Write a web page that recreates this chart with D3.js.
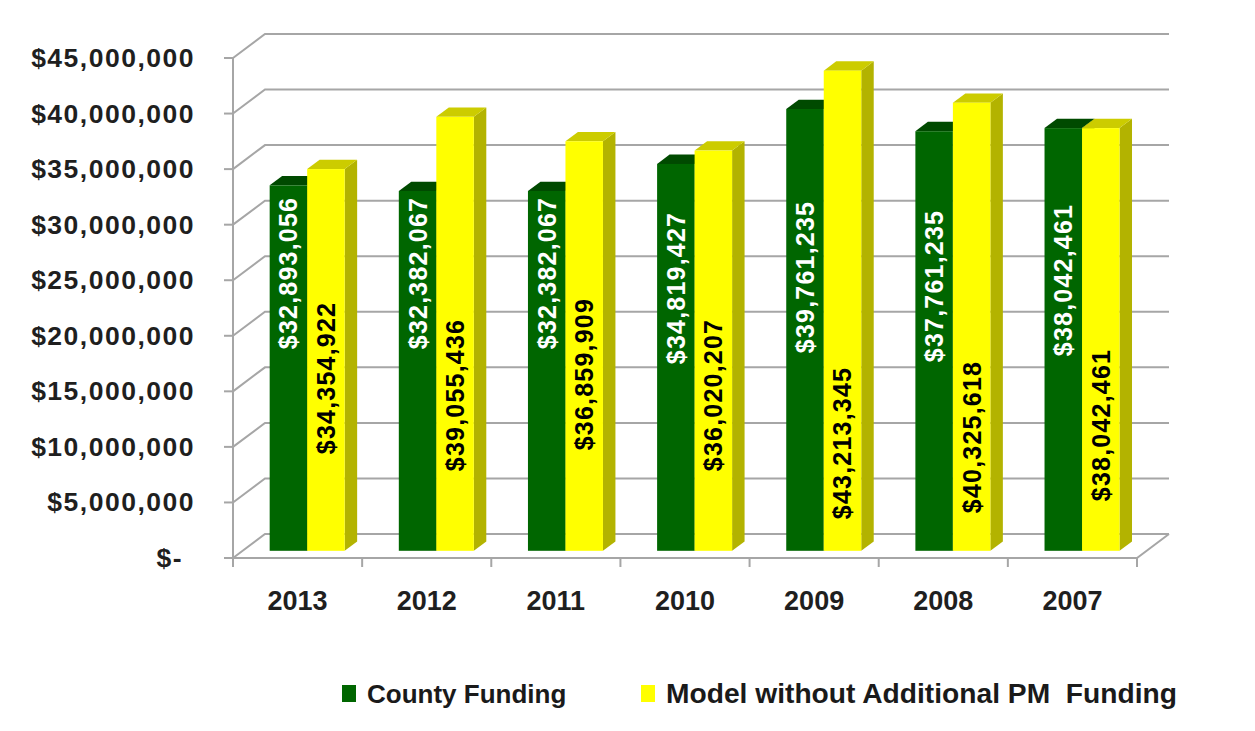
<!DOCTYPE html>
<html>
<head>
<meta charset="utf-8">
<script src="https://cdn.jsdelivr.net/npm/d3@7"></script>
<style>
  html, body { margin: 0; padding: 0; background: #fff; }
  svg { display: block; font-family: "Liberation Sans", Arial, sans-serif; }
</style>
</head>
<body>
<svg id="chart" width="1255" height="731"></svg>
<script>
// ---- data ----
const categories = ["2013", "2012", "2011", "2010", "2009", "2008", "2007"];
const seriesNames = ["County Funding", "Model without Additional PM  Funding"];
const countyFunding = [32893056, 32382067, 32382067, 34819427, 39761235, 37761235, 38042461];
const modelFunding  = [34354922, 39055436, 36859909, 36020207, 43213345, 40325618, 38042461];
const yTicks = [0, 5e6, 10e6, 15e6, 20e6, 25e6, 30e6, 35e6, 40e6, 45e6];

// ---- layout (label anchor heights, in value units) ----
const countyLabelAt = [25.0e6, 25.0e6, 25.0e6, 23.65e6, 24.64e6, 23.83e6, 24.37e6];
const modelLabelAt  = [15.55e6, 14.02e6, 15.9e6, 14.02e6, 9.70e6, 10.24e6, 11.32e6];

const colors = {
  green: {front: "#006600", top: "#004a00", side: "#004400"},
  yellow: {front: "#ffff00", top: "#cccc00", side: "#b3b300"}
};

const svg = d3.select("#chart");
const X0 = 233, X1 = 1137, Y0 = 558, YT = 58;
const D = [32, -24];             // depth vector of the floor
const f0 = 0.30, f1 = 0.69;      // bar depth range as fraction of floor depth

const y = d3.scaleLinear().domain([0, 45e6]).range([Y0, YT]);
const x = d3.scaleBand().domain(categories).range([X0, X1]);
const groupW = 75;
const x1 = d3.scaleBand().domain([0, 1]).range([(x.bandwidth() - groupW) / 2, (x.bandwidth() + groupW) / 2]);

const grid = svg.append("g").attr("fill", "none").attr("stroke", "#a6a6a6").attr("stroke-width", 2);

yTicks.forEach(t => {
  const yy = y(t);
  grid.append("path").attr("d", d3.line()([[X0, yy], [X0 + D[0], yy + D[1]], [X1 + D[0], yy + D[1]]]));
  grid.append("line").attr("x1", X0 - 9).attr("x2", X0).attr("y1", yy).attr("y2", yy);
});
grid.append("path").attr("d", d3.line()([[X0, Y0], [X1, Y0], [X1 + D[0], Y0 + D[1]]]));
grid.append("line").attr("x1", X0).attr("x2", X0).attr("y1", YT).attr("y2", Y0 + 9);
categories.concat(["_end"]).forEach((c, i) => {
  const xx = X0 + i * x.bandwidth();
  grid.append("line").attr("x1", xx).attr("x2", xx).attr("y1", Y0).attr("y2", Y0 + 9);
});

// y labels
const fmt = d3.format("$,");
svg.append("g").selectAll("text").data(yTicks).join("text")
  .attr("x", d => d === 0 ? 183 : 195)
  .attr("y", d => y(d) + 2)
  .attr("text-anchor", "end")
  .attr("dominant-baseline", "middle")
  .attr("font-size", 26.5).attr("font-weight", "bold").attr("fill", "#1f1f1f")
  .attr("letter-spacing", 1.5)
  .text(d => d === 0 ? "$-" : fmt(d));

// x labels
svg.append("g").selectAll("text").data(categories).join("text")
  .attr("x", d => x(d) + x.bandwidth() / 2)
  .attr("y", 610)
  .attr("text-anchor", "middle")
  .attr("font-size", 27).attr("font-weight", "bold").attr("fill", "#1f1f1f")
  .text(d => d);

// bars
const bars = svg.append("g");
const off = [D[0] * f0, D[1] * f0];
const dep = [D[0] * (f1 - f0), D[1] * (f1 - f0)];
const line = d3.line();
categories.forEach((c, i) => {
  [countyFunding[i], modelFunding[i]].forEach((v, s) => {
    const col = s === 0 ? colors.green : colors.yellow;
    const xl = x(c) + x1(s) + off[0];
    const xr = xl + x1.bandwidth();
    const yb = y(0) + off[1];
    const yt = y(v) + off[1];
    bars.append("path").attr("fill", col.side)
      .attr("d", line([[xr, yt], [xr + dep[0], yt + dep[1]], [xr + dep[0], yb + dep[1]], [xr, yb]]) + "Z");
    bars.append("path").attr("fill", col.top)
      .attr("d", line([[xl, yt], [xl + dep[0], yt + dep[1]], [xr + dep[0], yt + dep[1]], [xr, yt]]) + "Z");
    bars.append("rect").attr("fill", col.front)
      .attr("x", xl).attr("y", yt).attr("width", x1.bandwidth()).attr("height", yb - yt);
  });
});

// data labels
const labels = svg.append("g");
categories.forEach((c, i) => {
  [[countyFunding[i], countyLabelAt[i], "#ffffff"], [modelFunding[i], modelLabelAt[i], "#000000"]].forEach(([v, at, fill], s) => {
    const cx = x(c) + x1(s) + off[0] + x1.bandwidth() / 2;
    const cy = y(at) + off[1];
    labels.append("text")
      .attr("transform", `translate(${cx},${cy}) rotate(-90)`)
      .attr("text-anchor", "middle")
      .attr("dominant-baseline", "central")
      .attr("font-size", 25).attr("font-weight", "bold").attr("fill", fill)
      .attr("letter-spacing", 1.2)
      .text(fmt(v));
  });
});

// legend
const legend = svg.append("g");
const legendX = [342, 641];
seriesNames.forEach((n, s) => {
  legend.append("rect").attr("x", legendX[s]).attr("y", 685).attr("width", 14).attr("height", 17)
    .attr("fill", s === 0 ? colors.green.front : colors.yellow.front);
  legend.append("text").attr("x", legendX[s] + 25).attr("y", 703)
    .attr("font-size", s === 0 ? 26 : 28.2).attr("font-weight", "bold").attr("fill", "#1a1a1a")
    .style("white-space", "pre")
    .text(n);
});
</script>
</body>
</html>
